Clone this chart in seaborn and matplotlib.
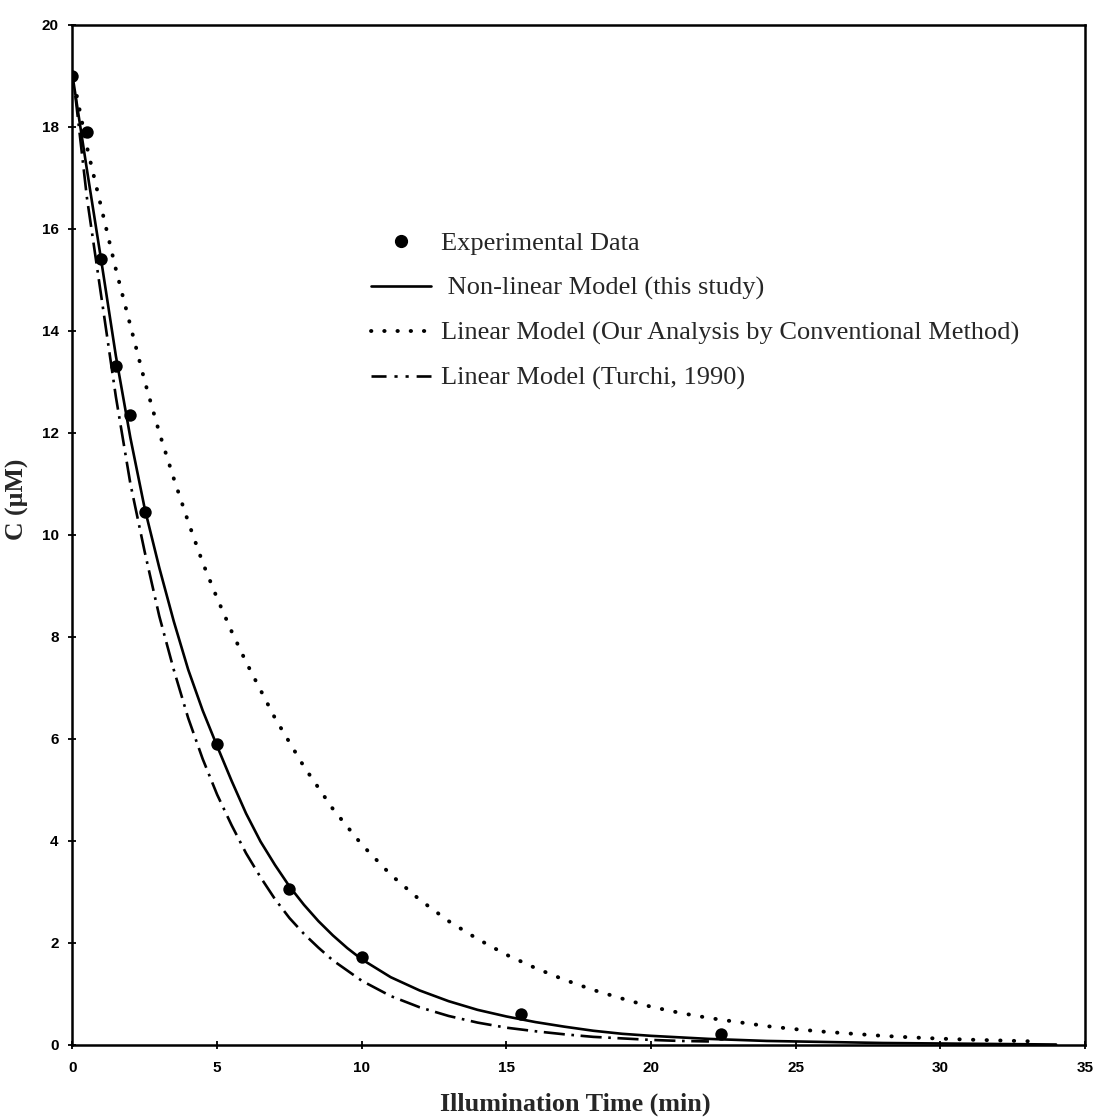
import numpy as np
import pandas as pd
import matplotlib
matplotlib.use("Agg")
import matplotlib.pyplot as plt
import seaborn as sns
from matplotlib.lines import Line2D

# Measured concentration of the substrate during illumination
exp_time = [0.0, 0.5, 1.0, 1.5, 2.0, 2.5, 5.0, 7.5, 10.0, 15.5, 22.4]
exp_conc = [19.0, 17.9, 15.4, 13.3, 12.35, 10.45, 5.9, 3.05, 1.72, 0.6, 0.2]

# Non-linear model (this study)
nl_time = [0.0, 0.5, 1.0, 1.5, 2.0, 2.5, 3.0, 3.5, 4.0, 4.5, 5.0, 5.5, 6.0, 6.5, 7.0,
           7.5, 8.0, 8.5, 9.0, 9.5, 10.0, 11.0, 12.0, 13.0, 14.0, 15.0, 16.0, 17.0,
           18.0, 19.0, 20.0, 22.0, 24.0, 26.0, 28.0, 30.0, 32.0, 34.0]
nl_conc = [19.0, 17.15, 15.35, 13.5, 11.9, 10.5, 9.35, 8.3, 7.35, 6.55, 5.85, 5.17, 4.53,
           3.98, 3.52, 3.1, 2.74, 2.42, 2.14, 1.89, 1.67, 1.32, 1.06, 0.85, 0.68, 0.55,
           0.44, 0.35, 0.27, 0.21, 0.17, 0.11, 0.07, 0.05, 0.03, 0.02, 0.01, 0.0]

# Linear model (our analysis by conventional method)
lin_time = [0.15, 0.5, 1.0, 1.5, 2.0, 2.5, 3.0, 3.5, 4.0, 4.5, 5.0, 5.5, 6.0, 7.0, 8.0,
            9.0, 10.0, 11.0, 12.0, 13.0, 14.0, 15.0, 16.0, 17.0, 18.0, 19.0, 20.0,
            21.0, 22.0, 23.0, 24.0, 25.0, 26.0, 27.0, 28.0, 29.0, 30.0, 31.0, 32.0, 33.3]
lin_conc = [18.6, 17.6, 16.4, 15.2, 14.1, 13.0, 12.0, 11.1, 10.25, 9.45, 8.75, 8.1, 7.5,
            6.4, 5.45, 4.62, 3.92, 3.33, 2.84, 2.42, 2.07, 1.76, 1.5, 1.27, 1.07, 0.9,
            0.74, 0.62, 0.52, 0.44, 0.36, 0.3, 0.25, 0.21, 0.17, 0.14, 0.115, 0.095,
            0.08, 0.06]

# Linear model (Turchi, 1990)
tur_time = [0.1, 0.5, 1.0, 1.5, 2.0, 2.5, 3.0, 3.5, 4.0, 4.5, 5.0, 5.5, 6.0, 6.5, 7.0,
            7.5, 8.0, 8.5, 9.0, 10.0, 11.0, 12.0, 13.0, 14.0, 15.0, 16.0, 17.0, 18.0,
            19.0, 20.0, 21.0, 22.0]
tur_conc = [18.6, 16.6, 14.65, 12.7, 11.0, 9.65, 8.4, 7.35, 6.4, 5.6, 4.9, 4.3, 3.75,
            3.28, 2.85, 2.48, 2.17, 1.9, 1.65, 1.25, 0.95, 0.73, 0.56, 0.43, 0.33,
            0.26, 0.2, 0.15, 0.12, 0.09, 0.07, 0.06]

x_ticks = [0, 5, 10, 15, 20, 25, 30, 35]
y_ticks = [0, 2, 4, 6, 8, 10, 12, 14, 16, 18, 20]

labels = ["Experimental Data",
          " Non-linear Model (this study)",
          "Linear Model (Our Analysis by Conventional Method)",
          "Linear Model (Turchi, 1990)"]

sns.set_style("ticks")
plt.rcParams["font.family"] = ["Liberation Serif", "DejaVu Serif"]

fig = plt.figure(figsize=(10.95, 11.2), dpi=100)
ax = fig.add_axes([0.0662, 0.0674, 0.9247, 0.9107])

lw = 1.9
dot_lw = 2.8
sns.lineplot(x=nl_time, y=nl_conc, ax=ax, color="black", linewidth=lw, sort=False)
sns.lineplot(x=lin_time, y=lin_conc, ax=ax, color="black", linewidth=dot_lw, sort=False,
             linestyle=(0, (0.1, 3.4)), dash_capstyle="round")
sns.lineplot(x=tur_time, y=tur_conc, ax=ax, color="black", linewidth=lw, sort=False,
             linestyle=(0, (8, 2.5, 1, 2.5)))
sns.scatterplot(x=exp_time, y=exp_conc, ax=ax, color="black", s=80, edgecolor="black",
                linewidth=0, zorder=5)

ax.set_xlim(0, 35)
ax.set_ylim(0, 20)
ax.set_xticks(x_ticks)
ax.set_yticks(y_ticks)
tick_font = dict(family="Liberation Sans", weight="bold", size=11)
ax.set_xticklabels([str(v) for v in x_ticks], fontdict=tick_font)
ax.set_yticklabels([str(v) for v in y_ticks], fontdict=tick_font)
ax.tick_params(axis="both", direction="inout", length=6, width=1.3, colors="black")
ax.tick_params(axis="x", pad=9)
ax.tick_params(axis="y", pad=7)
for side in ["left", "right", "top", "bottom"]:
    ax.spines[side].set_visible(True)
    ax.spines[side].set_linewidth(1.8)
    ax.spines[side].set_color("black")

ax.set_xlabel("Illumination Time (min)", fontsize=18.8, fontweight="bold")
ax.set_ylabel("C (\u00b5M)", fontsize=18.5, fontweight="bold")
ax.xaxis.set_label_coords(0.497, -0.047)
ax.yaxis.set_label_coords(-0.043, 0.535)

handles = [
    Line2D([], [], color="black", marker="o", markersize=8.5, linestyle="none"),
    Line2D([], [], color="black", linewidth=lw),
    Line2D([], [], color="black", linewidth=dot_lw, linestyle=(0, (0.1, 3.3)),
           dash_capstyle="round"),
    Line2D([], [], color="black", linewidth=lw,
           linestyle=(0, (5.7, 3, 1.2, 3, 1.2, 3))),
]
ax.legend(handles, labels, loc="upper left", bbox_to_anchor=(0.284, 0.807),
          frameon=False, fontsize=19, handlelength=2.3, handletextpad=0.38,
          labelspacing=0.8, borderaxespad=0)

fig.savefig("out.png", dpi=100, facecolor="white")
